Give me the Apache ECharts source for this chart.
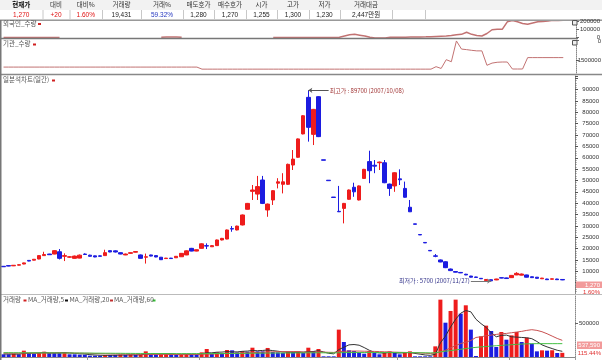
<!DOCTYPE html>
<html>
<head>
<meta charset="utf-8">
<script src="https://cdn.jsdelivr.net/npm/echarts@6/dist/echarts.min.js"></script>
<style>
html, body { margin: 0; padding: 0; background: #fff; }
#chart { width: 602px; height: 360px; }
</style>
</head>
<body>
<div id="chart"></div>
<script>
// 111 trading days + 2 empty slots on the right edge
const days = Array.from({ length: 113 }, (_, i) => String(i + 1));

const opens = [
  12200,12500,12400,12700,13200,14800,14900,15400,16900,17600,
  17600,18600,16600,16200,15700,15800,17600,17100,16800,16800,
  16900,19100,19000,18200,17200,17900,18400,17200,16200,17200,
  16900,16200,15600,15800,15950,16400,17200,20100,18900,20100,
  21300,20800,21300,23800,24200,28800,28200,30400,37300,45200,
  44000,50200,37000,41400,48800,48300,48300,56800,60200,70500,
  86600,70300,86900,59100,50100,42700,36400,37700,41700,47000,
  41400,50900,58300,56700,57800,57800,48400,47600,50700,46500,
  38200,30900,26200,22700,19200,16800,15000,14200,11000,9900,
  9500,8700,7900,7500,6900,5900,6300,6200,7200,7100,
  7200,8400,8300,8400,7600,7400,6700,6600,6500,6600,
  6400];
const closes = [
  12000,12300,12650,12900,13700,14500,15300,16900,17400,17300,
  19100,15700,16900,16400,16700,17100,17400,16600,16300,16600,
  18200,18500,18500,17600,17600,18200,18700,15700,16400,16700,
  16300,15100,15800,15600,16600,17900,19000,18900,19500,22100,
  21100,21300,23800,24500,28200,28600,29900,34800,39900,45800,
  47300,39900,39600,45500,49400,49400,57100,59400,68300,78500,
  73400,81300,69300,58900,49900,42500,36200,39900,45800,45000,
  47600,54900,54300,56300,58100,49000,46500,53400,50300,42600,
  36200,30700,26000,22500,19000,16600,14100,11600,10300,9600,
  9300,8400,7400,7300,6700,6400,5800,6600,7000,6800,
  8200,9100,8800,7400,7200,6900,7000,6300,6700,6300,
  6200];
const lows = [
  11900,12200,12300,12600,13100,14400,14800,15300,16800,17200,
  17500,15200,14500,15900,15600,15700,17200,16500,16200,16500,
  16800,18400,18300,17500,17100,17800,18300,15600,13400,16600,
  16200,15000,15500,15500,15900,16300,17100,18800,18800,20000,
  19800,20700,21200,23600,24100,27400,28000,30200,37200,41400,
  41400,39600,34000,39200,46500,44300,48000,54600,60000,70300,
  67100,65600,69100,58900,49900,42500,36100,31100,41500,42800,
  41200,50700,48800,53200,54600,48800,43200,45000,48000,42400,
  36100,30700,26000,22500,19000,16200,14000,11400,10100,9500,
  9200,8300,7300,7200,6600,5800,5700,6100,6900,6700,
  7100,8300,8200,7300,7100,6800,6600,6200,6400,6200,
  6100];
const highs = [
  12300,12600,12750,13000,13800,14900,15400,17000,18600,17700,
  19300,19800,17900,16700,16900,17400,17900,17300,16900,17000,
  19500,19200,19200,18300,17800,18300,18800,17400,17800,17300,
  17000,16300,15900,15900,16700,18000,19200,20300,19600,22300,
  22300,21500,24000,24700,28400,29900,30100,35000,40100,48000,
  52000,52000,39800,45700,51000,53200,57400,63400,68500,78800,
  89700,81500,87100,59100,50100,42700,47600,40100,46000,49000,
  47800,55100,63100,59000,58300,59000,48600,53600,54900,49500,
  41400,30900,26200,22700,19200,17600,15200,14400,11200,10000,
  9700,8900,8000,7600,7000,6600,6400,6700,7300,7200,
  8300,9600,9000,8500,7700,7500,7100,6700,6800,6700,
  6500];

// volume panel, in thousands of shares
const volumeK = [
  40,40,49,40,94,59,49,59,79,59,
  59,59,74,40,40,35,35,20,20,20,
  30,30,30,35,30,35,30,35,84,35,
  35,40,49,40,35,40,45,40,35,
  69,119,49,69,59,104,99,69,89,79,
  138,84,84,134,74,69,59,79,69,84,
  59,138,89,119,10,10,10,406,223,99,
  89,64,49,89,59,40,69,84,59,40,
  74,84,10,10,10,10,158,851,509,683,
  851,643,767,406,15,307,465,386,148,371,
  257,321,371,223,287,198,84,99,94,100,
  59,62];
const ma5K = [
  45,44,44,43,53,56,58,60,68,60,
  61,63,66,60,53,48,45,35,30,26,
  25,26,28,29,31,32,32,33,43,43,
  44,46,49,49,40,41,42,42,40,
  50,63,62,71,73,80,76,76,84,88,
  96,93,97,104,95,86,74,73,70,71,
  72,80,82,94,75,55,47,110,145,180,
  185,175,140,100,70,60,60,68,62,58,
  65,66,53,42,30,25,40,210,310,445,
  560,650,690,670,560,495,440,360,300,320,
  325,300,295,290,285,272,230,180,150,125,
  100,84];
const ma20K = [
  58,58,57,57,58,58,58,58,59,59,
  60,60,60,59,58,57,56,54,52,50,
  48,47,46,45,44,43,42,41,41,40,
  40,39,38,37,37,37,38,38,38,
  40,43,44,46,48,51,54,56,59,61,65,68,71,74,76,78,79,80,81,82,
  72,73,73,74,72,70,68,80,85,88,89,88,86,85,83,80,77,75,72,70,68,66,63,60,56,52,58,
  75,100,135,170,200,220,245,290,300,315,325,335,345,350,360,370,380,395,405,395,375,345,310,275,247];
const ma60K = [
  64,64,63,63,63,62,62,62,61,61,61,60,60,60,59,59,58,58,57,57,
  56,56,55,55,54,54,53,53,52,52,52,51,51,50,50,50,50,50,50,
  50,51,51,52,52,53,53,54,54,55,56,56,57,58,58,59,59,60,60,61,
  61,62,62,63,62,62,61,63,65,66,66,66,66,66,66,66,66,66,66,66,65,65,64,63,62,61,62,
  75,85,95,105,115,125,135,143,150,156,162,167,172,178,182,188,192,195,197,198,198,198,198,198,198];

// 외국인 / 기관 holdings, in thousands
const foreignK = [
  2,2,1.5,1.5,1,1,1,1.5,2,2,2.5,2.5,
  null,null,null,null,null,null,null,null,null,null,null,null,null,null,null,null,null,null,null,
  6,7,8,7,5,
  null,null,null,null,null,null,null,null,null,null,null,null,null,null,null,null,null,
  1,1,1.5,1.5,2,2,2,2,2,1.5,1.5,1,1,
  5,20,35,40,30,20,5,
  -3,-3,-3,
  5,5,6,6,7,8,9,
  10,12,15,18,
  20,25,35,40,65,40,25,20,50,95,100,100,190,205,190,170,160,175,190,195,200,210,205,210];
const instK = [
  -1970,-1970,-1970,-1970,-1970,-1970,-1970,-1970,-1970,-1970,
  -1970,-1970,-1970,-1970,-1970,-1970,-1970,-1970,-1970,-1970,
  -1970,-1970,-1970,-1970,-1970,-1970,-1970,-1970,-1970,-1970,
  -1970,-1970,-1970,-1970,-1970,-1970,-1970,-1970,-1970,
  -2120,-2120,-2120,-2120,-2120,-2120,-2120,-2120,-2120,-2120,
  -2120,-2120,-2120,-2120,-2120,-2120,-2120,-2120,-2120,-2120,
  -2120,-2120,-2120,-2120,-2120,-2120,-2120,-2120,-2120,-2120,
  -2120,-2120,-2120,-2120,-2120,-2120,-2120,-2120,-2120,-2120,
  -2120,-2120,-2120,-2120,-2120,-2120,
  -1940,-2070,-1430,-1580,-70,-660,-700,-750,-790,-790,
  -1840,-1680,-1620,-1600,-1600,-2110,-2110,-2110,
  -1280,-1280,-1280,-1280,-1280,-1280,-1280,-1280];

const monthTicks = [17, 39, 78, 100];
const foreignTicks = [0, 100, 200];
const instTicks = [0, -1500];
const volumeTicks = [500];

const headerLabels = ['현재가', '대비', '대비%', '거래량', '거래%', '매도호가', '매수호가', '시가', '고가', '저가', '거래대금'];
const headerValues = ['1,270', '+20', '1.60%', '19,431', '59.32%', '1,280', '1,270', '1,255', '1,300', '1,230', '2,447만원'];
const headerValueColors = ['#e01010', '#e01010', '#e01010', '#222', '#2638c0', '#222', '#222', '#222', '#222', '#222', '#222'];
const headerEdges = [0, 42.5, 69.5, 102, 141, 183, 214, 246, 277, 309, 340, 392];

const FONT = '"Liberation Sans", "Noto Sans CJK KR", sans-serif';
const KFONT = '"Noto Sans CJK KR", "Liberation Sans", sans-serif';

function txt(x, y, text, fill, extra) {
  return {
    type: 'text', x: x, y: y, z: 100, silent: true,
    style: Object.assign({ text: text, fill: fill, fontSize: 6.5, fontFamily: KFONT, align: 'left', verticalAlign: 'middle' }, extra || {})
  };
}
function hline(y, x1, x2, stroke, w) {
  return { type: 'line', z: 90, silent: true, shape: { x1: x1, y1: y, x2: x2, y2: y }, style: { stroke: stroke, lineWidth: w || 1 } };
}
function vline(x, y1, y2, stroke, w) {
  return { type: 'line', z: 90, silent: true, shape: { x1: x, y1: y1, x2: x, y2: y2 }, style: { stroke: stroke, lineWidth: w || 1 } };
}
function box(x, y, w, h, fill, stroke) {
  return { type: 'rect', z: 95, silent: true, shape: { x: x, y: y, width: w, height: h }, style: { fill: fill, stroke: stroke || null, lineWidth: 1 } };
}

const graphics = [];
// quote table at the top
graphics.push(box(0, 0, 602, 10, '#f2f2f2'));
graphics.push(hline(9.5, 0, 602, '#c8c8c8'));
graphics.push(hline(19.5, 0, 602, '#c8c8c8'));
headerEdges.slice(1).concat([425]).forEach(x => graphics.push(vline(x + 0.5, 0, 19.5, '#c8c8c8')));
headerLabels.forEach((t, i) => {
  const cx = (headerEdges[i] + headerEdges[i + 1]) / 2;
  graphics.push(txt(cx, 5, t, i === 0 ? '#000' : '#333', { align: 'center', fontWeight: i === 0 ? 'bold' : 'normal' }));
  graphics.push(txt(cx, 15, headerValues[i], headerValueColors[i], { align: 'center', fontFamily: FONT }));
});

// panel frames
graphics.push(hline(20.5, 0, 602, '#999'));
graphics.push(hline(38.5, 0, 578, '#777', 1.5));
graphics.push(hline(74.5, 0, 602, '#888', 1.5));
graphics.push(hline(294.5, 0, 602, '#bbb'));
graphics.push(vline(0.75, 20, 360, '#777', 1.5));
graphics.push(box(572.5, 20.5, 4.5, 4.5, '#eee', '#555'));
graphics.push(box(572.5, 40.5, 4.5, 4.5, '#eee', '#555'));

// panel titles
graphics.push(txt(3, 23.5, '외국인_수량', '#555'));
graphics.push(box(38, 23, 3, 2, '#d02020'));
graphics.push(txt(3, 44, '기관_수량', '#555'));
graphics.push(box(33, 43.5, 3, 2, '#d02020'));
graphics.push(txt(3, 80, '일분석차트(일간)', '#555'));
graphics.push(box(52, 79.5, 3, 2, '#d02020'));
graphics.push(txt(3, 300, '거래량', '#555'));
graphics.push(box(23.5, 299.5, 3, 2, '#d02020'));
graphics.push(txt(28, 300, 'MA_거래량,5', '#555'));
graphics.push(box(65, 299.5, 3, 2, '#111'));
graphics.push(txt(69.5, 300, 'MA_거래량,20', '#555'));
graphics.push(box(110, 299.5, 3, 2, '#c03030'));
graphics.push(txt(114, 300, 'MA_거래량,60', '#555'));
graphics.push(box(152.5, 299.5, 3, 2, '#30c030'));

// last-value tags on the right axis
graphics.push(box(576, 281.5, 26, 6.5, '#f29a9a'));
graphics.push(txt(600, 285, '1,270', '#fff', { align: 'right', fontFamily: FONT, fontSize: 6 }));
graphics.push(txt(600, 292, '1.60%', '#e03030', { align: 'right', fontFamily: FONT, fontSize: 6 }));
graphics.push(box(577, 341.5, 25, 7.5, '#f29a9a'));
graphics.push(txt(600, 345.5, '537,590', '#fff', { align: 'right', fontFamily: FONT, fontSize: 6 }));
graphics.push(txt(601, 353.5, '115.44%', '#e03030', { align: 'right', fontFamily: FONT, fontSize: 6 }));

const candleData = opens.map((o, i) => [o, closes[i], lows[i], highs[i]]);

const labelStyle = {
  fontSize: 6, color: '#333', margin: 24, align: 'right', fontFamily: FONT
};
const kLabel = v => String(Math.round(v * 1000));

function smallAxis(grid, min, max, ticks, showLabels) {
  return {
    gridIndex: grid, type: 'value', position: 'right', min: min, max: max,
    axisLine: { show: true, lineStyle: { color: '#888', type: [1, 1] } },
    axisTick: { show: true, length: 3, customValues: ticks, lineStyle: { color: '#666' } },
    axisLabel: Object.assign({ show: showLabels, customValues: ticks, formatter: kLabel }, labelStyle),
    splitLine: { show: false }
  };
}

const chart = echarts.init(document.getElementById('chart'), null, { renderer: 'canvas' });
chart.setOption({
  animation: false,
  textStyle: { fontFamily: FONT },
  grid: [
    { left: 1, right: 26, top: 20, height: 18 },
    { left: 1, right: 26, top: 40, height: 33 },
    { left: 1, right: 26, top: 76, height: 218 },
    { left: 1, right: 26, top: 296, height: 61 }
  ],
  xAxis: [0, 1, 2, 3].map(g => ({
    type: 'category',
    gridIndex: g,
    data: days,
    boundaryGap: true,
    axisLine: { show: g === 3, lineStyle: { color: '#888' } },
    axisTick: {
      show: g === 3,
      length: 4,
      interval: idx => monthTicks.includes(idx),
      lineStyle: { color: '#999' }
    },
    axisLabel: { show: false },
    splitLine: { show: false }
  })),
  yAxis: [
    smallAxis(0, -4, 212, foreignTicks, false),
    smallAxis(1, -2400, 0, instTicks, false),
    {
      gridIndex: 2, type: 'value', position: 'right', min: 0, max: 96000, interval: 5000,
      axisLine: { show: true, lineStyle: { color: '#888' } },
      axisTick: { show: true, length: 3, lineStyle: { color: '#555' } },
      minorTick: { show: true, splitNumber: 5, length: 1.5, lineStyle: { color: '#777' } },
      axisLabel: Object.assign({}, labelStyle, {
        formatter: v => (v <= 5000 || v >= 95000) ? '' : String(v)
      }),
      splitLine: { show: false }
    },
    smallAxis(3, 0, 905, volumeTicks, true)
  ],
  graphic: graphics,
  series: [
    {
      name: '외국인_수량', type: 'line', xAxisIndex: 0, yAxisIndex: 0,
      data: foreignK, symbol: 'none', connectNulls: false,
      lineStyle: { color: '#c27272', width: 1.5 }
    },
    {
      name: '기관_수량', type: 'line', xAxisIndex: 1, yAxisIndex: 1,
      data: instK, symbol: 'none',
      lineStyle: { color: '#c27272', width: 1 }
    },
    {
      name: '일분석차트', type: 'candlestick', xAxisIndex: 2, yAxisIndex: 2,
      data: candleData, barWidth: 4,
      itemStyle: {
        color: '#ee1c1c', color0: '#1c1ce0',
        borderColor: '#ee1c1c', borderColor0: '#1c1ce0', borderWidth: 1
      },
      markLine: {
        silent: true,
        animation: false,
        symbolSize: 4,
        data: [
          [
            {
              coord: [60, 89700], symbol: 'arrow',
              lineStyle: { color: '#555', width: 1, type: 'solid' },
              label: {
                show: true, position: 'end', distance: 1,
                formatter: '최고가 : 89700 (2007/10/08)',
                color: '#a03434', fontSize: 6, fontFamily: KFONT
              }
            },
            { coord: [64, 89700], symbol: 'none' }
          ],
          [
            {
              coord: [92, 5700], symbol: 'none',
              lineStyle: { color: '#777', width: 1, type: 'solid' },
              label: {
                show: true, position: 'start', distance: 1,
                formatter: '최저가 : 5700 (2007/11/27)',
                color: '#303088', fontSize: 6, fontFamily: KFONT
              }
            },
            { coord: [96, 5700], symbol: 'arrow' }
          ]
        ]
      }
    },
    {
      name: '거래량', type: 'bar', xAxisIndex: 3, yAxisIndex: 3,
      data: volumeK, barWidth: 4,
      itemStyle: {
        color: p => (p.dataIndex > 0 && volumeK[p.dataIndex] > volumeK[p.dataIndex - 1]) ? '#ee1c1c' : '#1c1ce0'
      }
    },
    {
      name: 'MA_거래량,5', type: 'line', xAxisIndex: 3, yAxisIndex: 3,
      data: ma5K, symbol: 'none', lineStyle: { color: '#333', width: 1 }
    },
    {
      name: 'MA_거래량,20', type: 'line', xAxisIndex: 3, yAxisIndex: 3,
      data: ma20K, symbol: 'none', lineStyle: { color: '#c85050', width: 1 }
    },
    {
      name: 'MA_거래량,60', type: 'line', xAxisIndex: 3, yAxisIndex: 3,
      data: ma60K, symbol: 'none', lineStyle: { color: '#44c044', width: 1 }
    }
  ]
});

// tick labels of the two small top panels, placed through their own y scales
const axisTexts = [];
foreignTicks.forEach(v => {
  const y = chart.convertToPixel({ yAxisIndex: 0 }, v);
  axisTexts.push(txt(600, y, kLabel(v), '#333', { align: 'right', fontFamily: FONT, fontSize: 6 }));
});
instTicks.forEach(v => {
  const y = chart.convertToPixel({ yAxisIndex: 1 }, v);
  axisTexts.push(txt(601, y + (v === 0 ? 1.5 : 0), kLabel(v), '#333', { align: 'right', fontFamily: FONT, fontSize: 6 }));
});
chart.setOption({ graphic: graphics.concat(axisTexts) });
</script>
</body>
</html>
